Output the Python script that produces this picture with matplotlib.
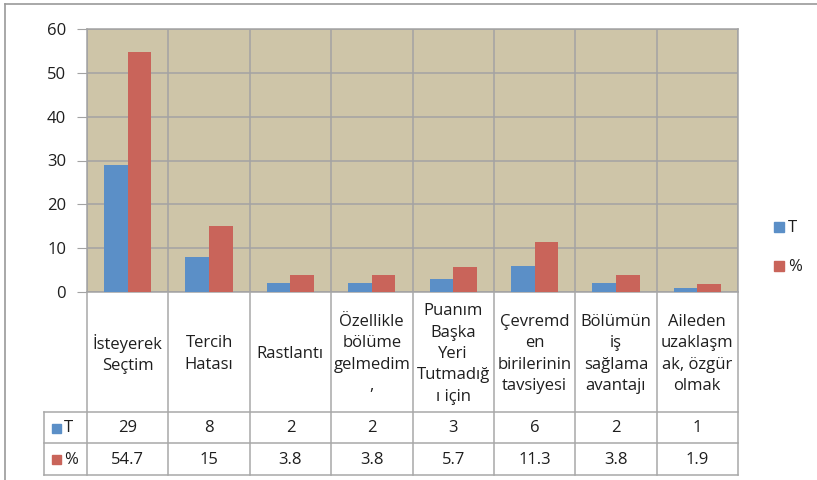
import matplotlib
matplotlib.use("Agg")
import matplotlib.pyplot as plt
from matplotlib.lines import Line2D
from matplotlib.patches import Rectangle
import numpy as np

categories = ["İsteyerek\nSeçtim", "Tercih\nHatası", "Rastlantı",
              "Özellikle\nbölüme\ngelmedim\n,", "Puanım\nBaşka\nYeri\nTutmadığ\nı için",
              "Çevremd\nen\nbirilerinin\ntavsiyesi", "Bölümün\niş\nsağlama\navantajı",
              "Aileden\nuzaklaşm\nak, özgür\nolmak"]
t_values = [29, 8, 2, 2, 3, 6, 2, 1]
pct_values = [54.7, 15, 3.8, 3.8, 5.7, 11.3, 3.8, 1.9]
t_labels = ["29", "8", "2", "2", "3", "6", "2", "1"]
pct_labels = ["54.7", "15", "3.8", "3.8", "5.7", "11.3", "3.8", "1.9"]
series_names = ["T", "%"]
yticks = [0, 10, 20, 30, 40, 50, 60]

BLUE = "#5B8FC7"
RED = "#C9645A"
BG = "#CEC5A8"
GRID = "#A3A3A3"
FONT = "Open Sans"
FS = 12
TXT = "#1E1E1E"

W, H = 817, 480
fig = plt.figure(figsize=(W / 100, H / 100), dpi=100)
fig.patch.set_facecolor("white")

def px_rect(x0, y0, x1, y1):
    return [x0 / W, 1 - y1 / H, (x1 - x0) / W, (y1 - y0) / H]

# outer border
fig.add_artist(Line2D([5 / W, 1], [1 - 4 / H, 1 - 4 / H], color="#9A9A9A", lw=1.2))
fig.add_artist(Line2D([5 / W, 5 / W], [0, 1 - 4 / H], color="#9A9A9A", lw=1.2))

PL, PR, PT, PB = 87, 738, 29, 292
ax = fig.add_axes(px_rect(PL, PT, PR, PB))
ax.set_facecolor(BG)
n = len(categories)
x = np.arange(n)
bw = 0.29
ax.bar(x - bw / 2, t_values, bw, color=BLUE, zorder=3)
ax.bar(x + bw / 2, pct_values, bw, color=RED, zorder=3)
ax.set_xlim(-0.5, n - 0.5)
ax.set_ylim(0, 60)
ax.set_yticks(yticks)
ax.set_yticklabels([str(v) for v in yticks], fontname=FONT, fontsize=FS, color=TXT)
ax.set_xticks([])
ax.yaxis.grid(True, color=GRID, lw=1.1, zorder=1)
for b in np.arange(n + 1) - 0.5:
    ax.axvline(b, color=GRID, lw=1.1, zorder=1)
for s in ax.spines.values():
    s.set_color(GRID)
    s.set_linewidth(1.1)
ax.tick_params(axis="y", length=7, color=GRID, pad=8)

# table
TL, TB = 44, 475
cw = (PR - PL) / n
tax = fig.add_axes(px_rect(TL, PB, PR, TB))
tax.set_xlim(-0.5 - (PL - TL) / cw, n - 0.5)
tax.set_ylim(TB, PB)
tax.axis("off")
lc = "#A8A8A8"
R1, R2 = 412, 443
for yy in (R1, R2, TB - 0.5):
    tax.plot([tax.get_xlim()[0], n - 0.5], [yy, yy], color=lc, lw=1.1, clip_on=False)
for b in np.arange(n + 1) - 0.5:
    tax.plot([b, b], [PB, TB], color=lc, lw=1.1, clip_on=False)
x0 = tax.get_xlim()[0]
tax.plot([x0, x0], [R1, TB], color=lc, lw=1.1, clip_on=False)

for i, c in enumerate(categories):
    tax.text(i, (PB + R1) / 2 + 2, c, ha="center", va="center", fontname=FONT,
             fontsize=FS, linespacing=1.45, color=TXT)
    tax.text(i, (R1 + R2) / 2 + 1, t_labels[i], ha="center", va="center",
             fontname=FONT, fontsize=FS, color=TXT)
    tax.text(i, (R2 + TB) / 2 + 1, pct_labels[i], ha="center", va="center",
             fontname=FONT, fontsize=FS, color=TXT)

for row_y, col, name in (((R1 + R2) / 2, BLUE, series_names[0]), ((R2 + TB) / 2, RED, series_names[1])):
    kx = x0 + 8 / cw
    tax.add_patch(Rectangle((kx, row_y - 4), 9 / cw, 9, color=col, clip_on=False))
    tax.text(kx + 12 / cw, row_y + 1, name, ha="left", va="center", fontname=FONT,
             fontsize=FS, color=TXT)

# legend
lax = fig.add_axes([0, 0, 1, 1])
lax.set_xlim(0, W)
lax.set_ylim(H, 0)
lax.axis("off")
for yy, col, name in ((227, BLUE, series_names[0]), (266, RED, series_names[1])):
    lax.add_patch(Rectangle((774, yy - 5), 10, 10, color=col))
    lax.text(788, yy + 1, name, ha="left", va="center", fontname=FONT, fontsize=FS, color=TXT)

fig.savefig("out.png", dpi=100)
